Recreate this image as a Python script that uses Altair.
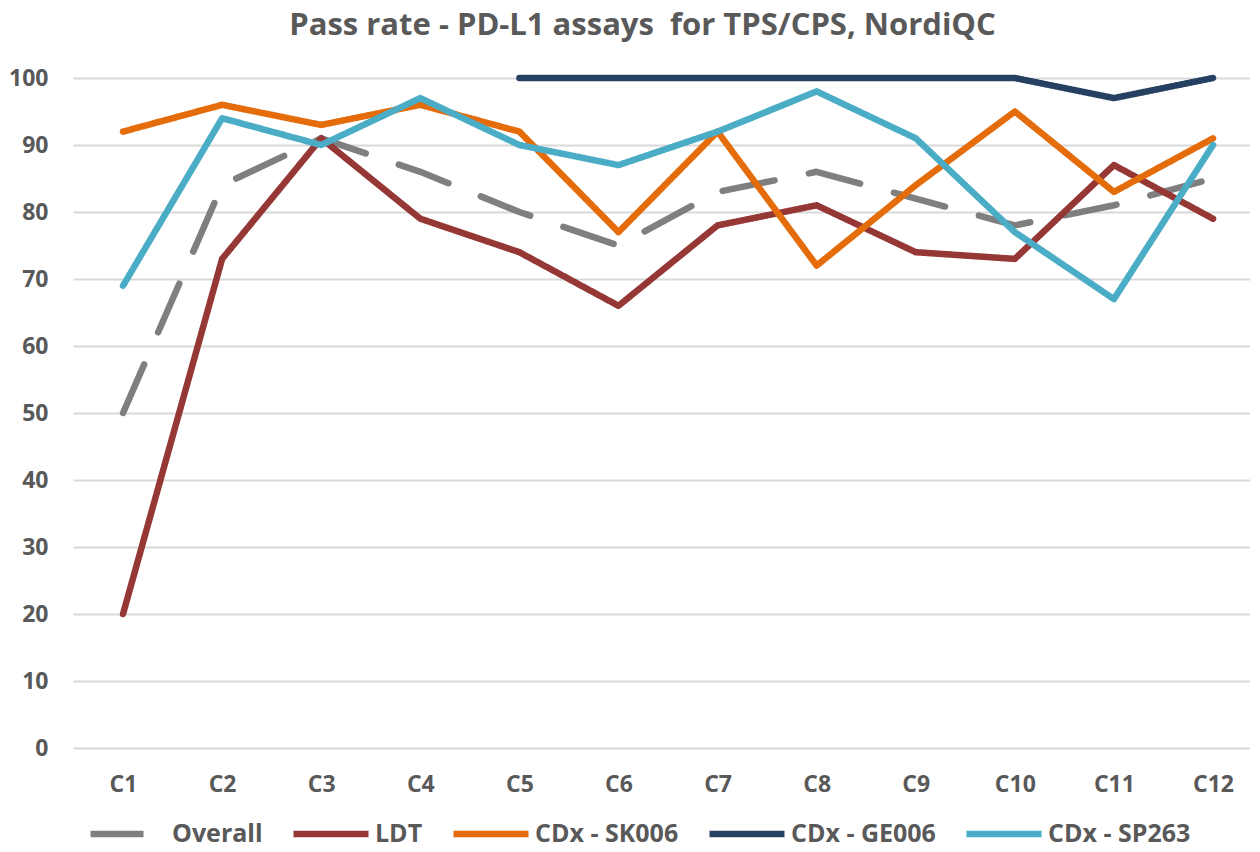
import altair as alt
import pandas as pd

categories = ["C1", "C2", "C3", "C4", "C5", "C6", "C7", "C8", "C9", "C10", "C11", "C12"]
series_names = ["Overall", "LDT", "CDx - SK006", "CDx - GE006", "CDx - SP263"]
overall = [50, 84, 91, 86, 80, 75, 83, 86, 82, 78, 81, 85]
ldt = [20, 73, 91, 79, 74, 66, 78, 81, 74, 73, 87, 79]
sk006 = [92, 96, 93, 96, 92, 77, 92, 72, 84, 95, 83, 91]
ge006 = [None, None, None, None, 100, 100, 100, 100, 100, 100, 97, 100]
sp263 = [69, 94, 90, 97, 90, 87, 92, 98, 91, 77, 67, 90]
colors = ["#7f7f7f", "#953735", "#e46c0a", "#254061", "#4bacc6"]
dashes = [[53, 35], [1, 0], [1, 0], [1, 0], [1, 0]]

rows = []
for name, vals in zip(series_names, [overall, ldt, sk006, ge006, sp263]):
    for c, v in zip(categories, vals):
        if v is not None:
            rows.append({"Cycle": c, "Series": name, "Pass rate": v})
df = pd.DataFrame(rows)

FONT = "Open Sans"
GREY = "#595959"

chart = alt.Chart(df).mark_line(strokeWidth=6.5, strokeCap="round", strokeJoin="round").encode(
    x=alt.X("Cycle:N", sort=categories, title=None,
            scale=alt.Scale(type="point", padding=0.439, align=0.575),
            axis=alt.Axis(labelAngle=0, ticks=False, domain=False, grid=False,
                          labelFont=FONT, labelFontSize=23, labelFontWeight="bold",
                          labelColor=GREY, labelPadding=25)),
    y=alt.Y("Pass rate:Q", title=None,
            scale=alt.Scale(domain=[0, 100], nice=False),
            axis=alt.Axis(values=list(range(0, 101, 10)), ticks=False, domain=False,
                          gridColor="#d9d9d9", gridWidth=2,
                          labelFont=FONT, labelFontSize=23, labelFontWeight="bold",
                          labelColor=GREY, labelPadding=25)),
    color=alt.Color("Series:N", sort=series_names,
                    scale=alt.Scale(domain=series_names, range=colors),
                    legend=alt.Legend(title=None, orient="none", legendX=14, legendY=715,
                                      direction="horizontal", columns=5,
                                      symbolType="stroke", symbolSize=5625,
                                      symbolStrokeWidth=6.5, columnPadding=17,
                                      labelFont=FONT, labelFontSize=25, labelFontWeight="bold",
                                      labelColor=GREY, labelOffset=3)),
    strokeDash=alt.StrokeDash("Series:N", sort=series_names,
                              scale=alt.Scale(domain=series_names, range=dashes),
                              legend=None),
    detail="Series:N",
).properties(
    width=1177, height=670,
    padding={"left": 0, "top": 2, "right": 0, "bottom": 0},
    title=alt.Title("Pass rate - PD-L1 assays\u00a0 for TPS/CPS, NordiQC", font=FONT, fontSize=31,
                    fontWeight="bold", color=GREY, anchor="middle", frame="group",
                    dx=-19, offset=25),
).configure_view(stroke=None)

chart.save("out.html", embed_options={"renderer": "svg", "actions": False})
